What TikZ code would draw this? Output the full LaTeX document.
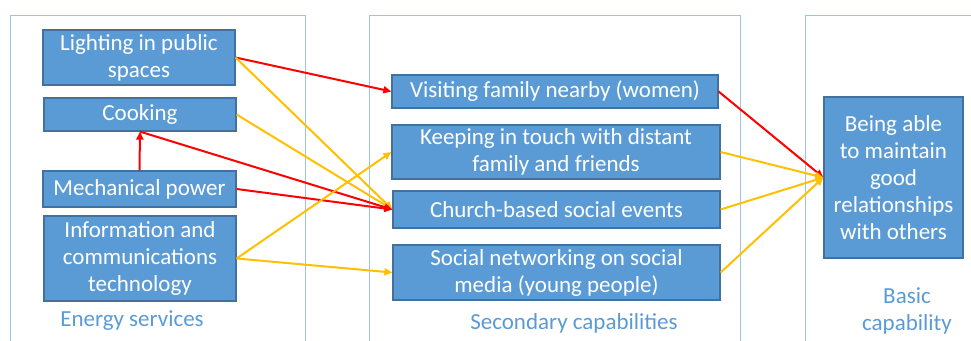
\documentclass[tikz,border=0pt]{standalone}
\usepackage{fontspec}
\setmainfont{Carlito}
\usetikzlibrary{arrows.meta}
\definecolor{boxfill}{HTML}{5B9BD5}
\definecolor{boxline}{HTML}{41719C}
\definecolor{panelline}{HTML}{9DC3E6}
\definecolor{labelblue}{HTML}{5B9BD5}
\definecolor{arrred}{HTML}{FF0000}
\definecolor{arryel}{HTML}{FFC000}
\tikzset{
  box/.style={draw=boxline, line width=1.2pt, fill=boxfill, text=white, align=center,
    inner sep=0pt, font=\fontsize{23}{27}\selectfont},
  panel/.style={draw=panelline, line width=1pt},
  plabel/.style={text=labelblue, align=center, font=\fontsize{23}{27}\selectfont},
  redarr/.style={draw=arrred, line width=2pt, -{Triangle[length=8pt,width=7pt]}},
  yelarr/.style={draw=arryel, line width=2pt, -{Triangle[length=8pt,width=7pt]}},
}
\begin{document}
\begin{tikzpicture}[x=1pt,y=-1pt]
\useasboundingbox (0,0) rectangle (971,340);
\fill[white] (0,0) rectangle (971,340);
% panels
\draw[panel] (10,341) -- (10,15) -- (305,15) -- (305,341);
\draw[panel] (369,341) -- (369,15) -- (740,15) -- (740,341);
\draw[panel] (805,341) -- (805,15) -- (972,15);
% energy services
\node[box, minimum width=192pt, minimum height=55pt] (light) at (139,57.5) {Lighting in public\\spaces};
\node[box, minimum width=192pt, minimum height=33pt] (cook) at (140,114.5) {Cooking};
\node[box, minimum width=193pt, minimum height=36pt] (mech) at (139.5,189) {Mechanical power};
\node[box, minimum width=192pt, minimum height=85pt] (ict) at (140,258.5) {Information and\\communications\\technology};
\node[plabel] (lab1) at (132,321) {Energy services};
% secondary
\node[box, minimum width=326pt, minimum height=33pt] (visit) at (555,91.5) {Visiting family nearby (women)};
\node[box, minimum width=328pt, minimum height=54pt] (keep) at (556,152) {Keeping in touch with distant\\family and friends};
\node[box, minimum width=327pt, minimum height=37pt] (church) at (556.5,209.5) {Church-based social events};
\node[box, minimum width=327pt, minimum height=55pt] (social) at (556.5,272.5) {Social networking on social\\media (young people)};
\node[plabel] (lab2) at (574,323) {Secondary capabilities};
% basic
\node[box, minimum width=139pt, minimum height=161pt] (being) at (893.5,177.5) {Being able\\to maintain\\good\\relationships\\with others};
\node[plabel] (lab3) at (907,311) {Basic\\capability};
% connectors
\draw[redarr] (light.east) -- (visit.west);
\draw[yelarr] (light.east) -- (church.west);
\draw[yelarr] (cook.east) -- (church.west);
\draw[redarr] (cook.south) -- (church.west);
\draw[redarr] (mech.north) -- (cook.south);
\draw[redarr] (mech.east) -- (church.west);
\draw[yelarr] (ict.east) -- (keep.west);
\draw[yelarr] (ict.east) -- (social.west);
\draw[redarr] (visit.east) -- (being.west);
\draw[yelarr] (keep.east) -- (being.west);
\draw[yelarr] (church.east) -- (being.west);
\draw[yelarr] (social.east) -- (being.west);
\end{tikzpicture}
\end{document}
